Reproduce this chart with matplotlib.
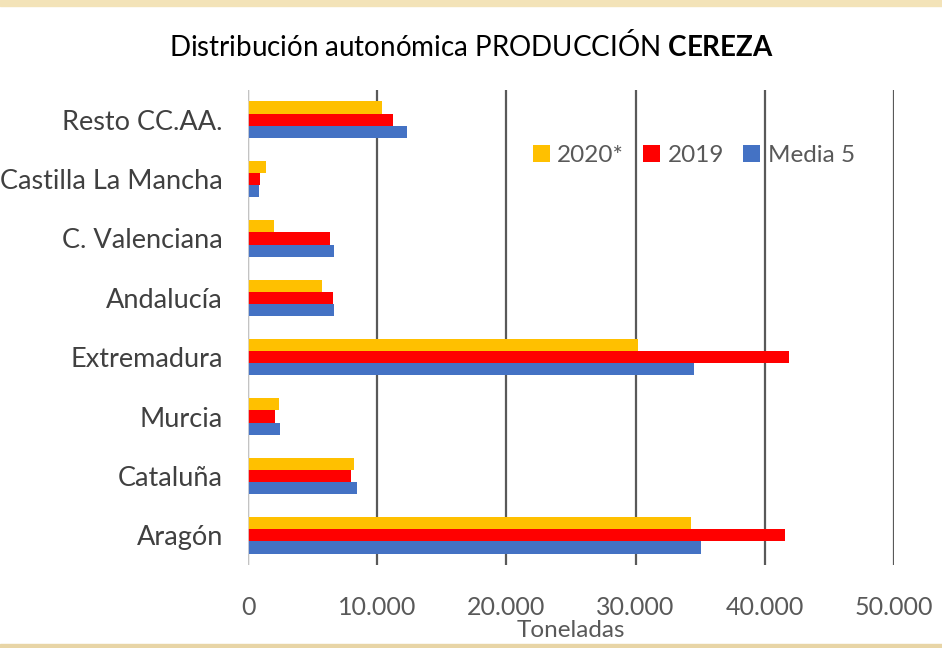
import matplotlib.pyplot as plt
import numpy as np
from matplotlib.patches import Rectangle
from matplotlib.ticker import FuncFormatter

plt.rcParams['font.family'] = ['Lato', 'DejaVu Sans']
plt.rcParams['mathtext.fontset'] = 'custom'
plt.rcParams['mathtext.rm'] = 'Lato'
plt.rcParams['mathtext.bf'] = 'Lato:bold'

regiones = ['Aragón', 'Cataluña', 'Murcia', 'Extremadura', 'Andalucía',
            'C. Valenciana', 'Castilla La Mancha', 'Resto CC.AA.']
prod_2020 = [34260, 8190, 2390, 30150, 5710, 2000, 1400, 10410]
prod_2019 = [41600, 7950, 2080, 41860, 6560, 6330, 950, 11210]
media_5 = [35060, 8420, 2470, 34500, 6640, 6640, 830, 12270]

series = [('2020*', prod_2020, '#FFC000'),
          ('2019', prod_2019, '#FF0000'),
          ('Media 5', media_5, '#4472C4')]

fig = plt.figure(figsize=(9.42, 6.48), dpi=100)
ax = fig.add_axes([248 / 942, 1 - 565 / 648, (894 - 248) / 942, (565 - 90) / 648])

y = np.arange(len(regiones))
h = 0.205
for i, (nombre, vals, color) in enumerate(series):
    ax.barh(y + (1 - i) * h, vals, height=h, color=color, label=nombre, zorder=3)

ax.set_xlim(0, 50000)
ax.set_ylim(-0.5, 7.5)
ax.set_xticks(range(0, 50001, 10000))
ax.xaxis.set_major_formatter(FuncFormatter(lambda v, p: f'{int(v):,}'.replace(',', '.')))
ax.grid(axis='x', color='#595959', linewidth=1.6, zorder=0)
ax.axvline(0, color='#D9D9D9', linewidth=1.2, zorder=4)
for s in ax.spines.values():
    s.set_visible(False)
ax.tick_params(axis='both', length=0)
ax.tick_params(axis='x', labelsize=18, labelcolor='#595959', pad=22)
ax.tick_params(axis='y', labelsize=19.5, labelcolor='#404040', pad=18)
ax.set_yticks(y)
ax.set_yticklabels(regiones)
ax.set_xlabel('Toneladas', fontsize=17.5, color='#595959', labelpad=1)

ax.legend(loc='center', bbox_to_anchor=(0.69, 0.862), ncol=3, frameon=False,
          fontsize=17.5, labelcolor='#595959', handlelength=0.7, handleheight=0.7,
          handletextpad=0.3, columnspacing=0.8)

fig.text(0.5, 1 - 46 / 648, 'Distribución autonómica PRODUCCIÓN $\\mathbf{CEREZA}$',
         ha='center', va='center', fontsize=20, color='#000000')

# franjas decorativas arriba y abajo
fig.patches.append(Rectangle((0, 1 - 6 / 648), 1, 6 / 648, transform=fig.transFigure,
                             color='#F3E3B8', zorder=0))
fig.patches.append(Rectangle((0, 0), 1, 4 / 648, transform=fig.transFigure,
                             color='#E8D5A6', zorder=0))

fig.savefig('out.png', dpi=100)
